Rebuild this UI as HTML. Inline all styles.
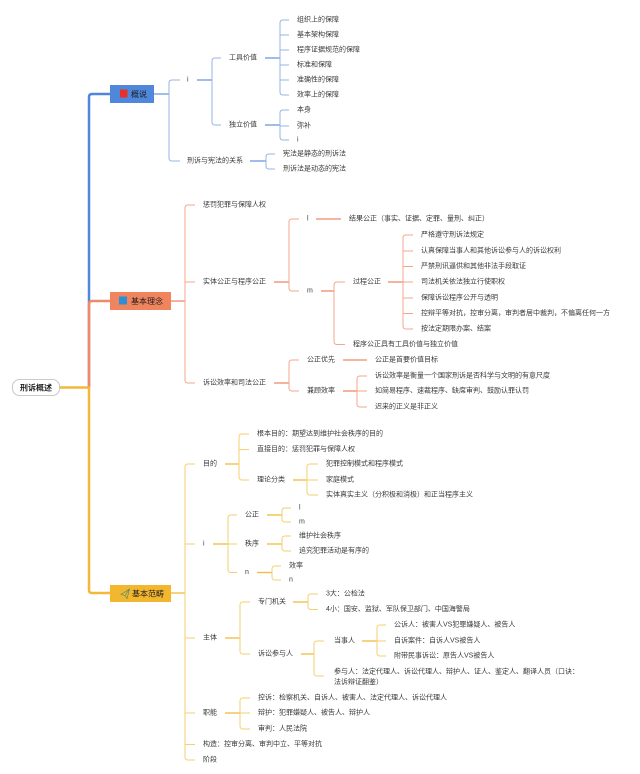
<!DOCTYPE html>
<html><head><meta charset="utf-8"><style>
html,body{margin:0;padding:0;background:#fff;}
svg{display:block;}
text{font-family:"Liberation Sans","Noto Sans CJK SC",sans-serif;font-size:7px;fill:#3a3a3a;dominant-baseline:central;}
.b{font-size:8px;fill:#1e1e1e;}
.r{font-size:8px;fill:#1e1e1e;font-weight:bold;}
path{fill:none;}
</style></head><body>
<svg width="640" height="774" viewBox="0 0 640 774" xmlns="http://www.w3.org/2000/svg">
<!-- trunk -->
<path d="M110 94 H92 Q89 94 89 97 V387" stroke="#4f87db" stroke-width="2.5"/>
<path d="M110 301 H92 Q89 301 89 304 V387" stroke="#ee8a68" stroke-width="2.5"/>
<path d="M60 387.5 H89 V590 Q89 593 92 593 H110" stroke="#f3b73a" stroke-width="2.5"/>

<!-- root -->
<rect x="12.5" y="379.5" width="47" height="16" rx="7" fill="#fff" stroke="#bbbbbb" stroke-width="0.8"/>
<text class="r" x="36" y="387.8" text-anchor="middle">刑诉概述</text>

<!-- ===== BLUE ===== -->
<g stroke="#6c98de" stroke-width="1.3">
<path d="M154 94 H169"/><path d="M197 80 H212"/><path d="M265 58 H280"/><path d="M265 125 H280"/><path d="M250 161 H266"/>
</g>
<g stroke="#94b4e6" stroke-width="1">
<path d="M180 80 H172 Q169 80 169 83 V158 Q169 161 172 161 H180"/>
<path d="M221 58 H215 Q212 58 212 61 V122 Q212 125 215 125 H221"/>
<path d="M289 20 H283 Q280 20 280 23 V92 Q280 95 283 95 H289 M280 35 H289 M280 50 H289 M280 65 H289 M280 80 H289"/>
<path d="M289 110 H283 Q280 110 280 113 V137 Q280 140 283 140 H289 M280 126 H289"/>
<path d="M275 154 H269 Q266 154 266 157 V166 Q266 169 269 169 H275"/>
</g>
<rect x="110" y="85" width="44" height="18" fill="#4f87db"/>
<rect x="120" y="89.5" width="7.5" height="8" fill="#e5312a"/>
<text class="b" x="131" y="94.5">概说</text>

<text x="187" y="80">i</text>
<text x="229" y="58">工具价值</text>
<text x="297" y="20">组织上的保障</text>
<text x="297" y="35">基本架构保障</text>
<text x="297" y="50">程序证据规范的保障</text>
<text x="297" y="65">标准和保障</text>
<text x="297" y="80">准确性的保障</text>
<text x="297" y="95">效率上的保障</text>
<text x="229" y="125">独立价值</text>
<text x="297" y="110">本身</text>
<text x="297" y="126">弥补</text>
<text x="297" y="140">i</text>
<text x="187" y="161">刑诉与宪法的关系</text>
<text x="283" y="154">宪法是静态的刑诉法</text>
<text x="283" y="169">刑诉法是动态的宪法</text>

<!-- ===== ORANGE ===== -->
<g stroke="#ef8a68" stroke-width="1.3">
<path d="M171 301 H185"/><path d="M274 282 H289"/><path d="M316 219 H341"/><path d="M321 291 H334"/><path d="M388 282 H403"/><path d="M274 383 H289"/><path d="M343 360 H367"/><path d="M343 391 H357"/>
</g>
<g stroke="#f3a88c" stroke-width="1">
<path d="M195 205 H188 Q185 205 185 208 V380 Q185 383 188 383 H195 M185 282 H195"/>
<path d="M299 219 H292 Q289 219 289 222 V288 Q289 291 292 291 H299"/>
<path d="M345 282 H337 Q334 282 334 285 V341.5 Q334 344.5 337 344.5 H345"/>
<path d="M413 235 H406 Q403 235 403 238 V326 Q403 329 406 329 H413 M403 251 H413 M403 266.5 H413 M403 282 H413 M403 298 H413 M403 313.5 H413"/>
<path d="M299 360 H292 Q289 360 289 363 V388 Q289 391 292 391 H299"/>
<path d="M367 376 H360 Q357 376 357 379 V404 Q357 407 360 407 H367 M357 391 H367"/>
</g>
<rect x="110" y="292" width="61" height="18" fill="#f0845f"/>
<rect x="119" y="296.5" width="8" height="8" fill="#2d8fd5"/>
<text class="b" x="131" y="301.5">基本理念</text>

<text x="203" y="205">惩罚犯罪与保障人权</text>
<text x="203" y="282">实体公正与程序公正</text>
<text x="307" y="219">l</text>
<text x="349" y="219">结果公正（事实、证据、定罪、量刑、纠正）</text>
<text x="307" y="291">m</text>
<text x="353" y="282">过程公正</text>
<text x="421" y="235">严格遵守刑诉法规定</text>
<text x="421" y="251">认真保障当事人和其他诉讼参与人的诉讼权利</text>
<text x="421" y="266.5">严禁刑讯逼供和其他非法手段取证</text>
<text x="421" y="282">司法机关依法独立行使职权</text>
<text x="421" y="298">保障诉讼程序公开与透明</text>
<text x="421" y="313.5">控辩平等对抗，控审分离，审判者居中裁判，不偏离任何一方</text>
<text x="421" y="329">按法定期限办案、结案</text>
<text x="353" y="344.5">程序公正具有工具价值与独立价值</text>
<text x="203" y="383">诉讼效率和司法公正</text>
<text x="307" y="360">公正优先</text>
<text x="375" y="360">公正是首要价值目标</text>
<text x="307" y="391">兼顾效率</text>
<text x="375" y="376">诉讼效率是衡量一个国家刑诉是否科学与文明的有意尺度</text>
<text x="375" y="391">如简易程序、速裁程序、缺席审判、鼓励认罪认罚</text>
<text x="375" y="407">迟来的正义是非正义</text>

<!-- ===== YELLOW ===== -->
<g stroke="#f2bb3c" stroke-width="1.3">
<path d="M171 593 H185"/><path d="M225 464 H239"/><path d="M293 480 H307"/><path d="M213 544 H228"/><path d="M267 515 H282"/><path d="M267 544 H282"/><path d="M257 572.5 H272"/><path d="M225 638 H240"/><path d="M293 602 H308"/><path d="M301 654 H314"/><path d="M362 641 H377"/><path d="M225 713 H240"/>
</g>
<g stroke="#f5cf72" stroke-width="1">
<path d="M195 464 H188 Q185 464 185 467 V757 Q185 760 188 760 H195 M185 544 H195 M185 638 H195 M185 713 H195 M185 744.5 H195"/>
<path d="M249 434 H242 Q239 434 239 437 V477 Q239 480 242 480 H249 M239 449.5 H249"/>
<path d="M318 464 H310 Q307 464 307 467 V492 Q307 495 310 495 H318 M307 480 H318"/>
<path d="M237 515 H231 Q228 515 228 518 V569.5 Q228 572.5 231 572.5 H237 M228 544 H237"/>
<path d="M291 508 H285 Q282 508 282 511 V519 Q282 522 285 522 H291"/>
<path d="M291 536 H285 Q282 536 282 539 V548 Q282 551 285 551 H291"/>
<path d="M281 566 H275 Q272 566 272 569 V577 Q272 580 275 580 H281"/>
<path d="M250 602 H243 Q240 602 240 605 V651 Q240 654 243 654 H250"/>
<path d="M318 594 H311 Q308 594 308 597 V606.5 Q308 609.5 311 609.5 H318"/>
<path d="M324 641 H317 Q314 641 314 644 V673 Q314 676 317 676 H324"/>
<path d="M386 625 H380 Q377 625 377 628 V653 Q377 656 380 656 H386 M377 641 H386"/>
<path d="M250 698 H243 Q240 698 240 701 V726 Q240 729 243 729 H250 M240 713 H250"/>
</g>
<rect x="110" y="585" width="61" height="17" fill="#f3b62f"/>
<path d="M121 594.5 L129.5 589 L127 598.5 L125 595.5 Z M125 595.5 L129.5 589" fill="#6fae9a" stroke="#3f8a75" stroke-width="0.6"/>
<text class="b" x="132" y="593.8">基本范畴</text>

<text x="203" y="464">目的</text>
<text x="257" y="434">根本目的：期望达到维护社会秩序的目的</text>
<text x="257" y="449.5">直接目的：惩罚犯罪与保障人权</text>
<text x="257" y="480">理论分类</text>
<text x="326" y="464">犯罪控制模式和程序模式</text>
<text x="326" y="480">家庭模式</text>
<text x="326" y="495">实体真实主义（分积极和消极）和正当程序主义</text>
<text x="203" y="544">i</text>
<text x="245" y="515">公正</text>
<text x="299" y="508">l</text>
<text x="299" y="522">m</text>
<text x="245" y="544">秩序</text>
<text x="299" y="536">维护社会秩序</text>
<text x="299" y="551">追究犯罪活动是有序的</text>
<text x="245" y="572.5">n</text>
<text x="289" y="566">效率</text>
<text x="289" y="580">n</text>
<text x="203" y="638">主体</text>
<text x="258" y="602">专门机关</text>
<text x="326" y="594">3大：公检法</text>
<text x="326" y="609.5">4小：国安、监狱、军队保卫部门、中国海警局</text>
<text x="258" y="654">诉讼参与人</text>
<text x="334" y="641">当事人</text>
<text x="394" y="625">公诉人：被害人VS犯罪嫌疑人、被告人</text>
<text x="394" y="641">自诉案件：自诉人VS被告人</text>
<text x="394" y="656">附带民事诉讼：原告人VS被告人</text>
<text x="334" y="672">参与人：法定代理人、诉讼代理人、辩护人、证人、鉴定人、翻译人员（口诀：</text>
<text x="334" y="682.5">法诉辩证翻鉴）</text>
<text x="203" y="713">职能</text>
<text x="258" y="698">控诉：检察机关、自诉人、被害人、法定代理人、诉讼代理人</text>
<text x="258" y="713">辩护：犯罪嫌疑人、被告人、辩护人</text>
<text x="258" y="729">审判：人民法院</text>
<text x="203" y="744.5">构造：控审分离、审判中立、平等对抗</text>
<text x="203" y="760">阶段</text>
</svg>
</body></html>
